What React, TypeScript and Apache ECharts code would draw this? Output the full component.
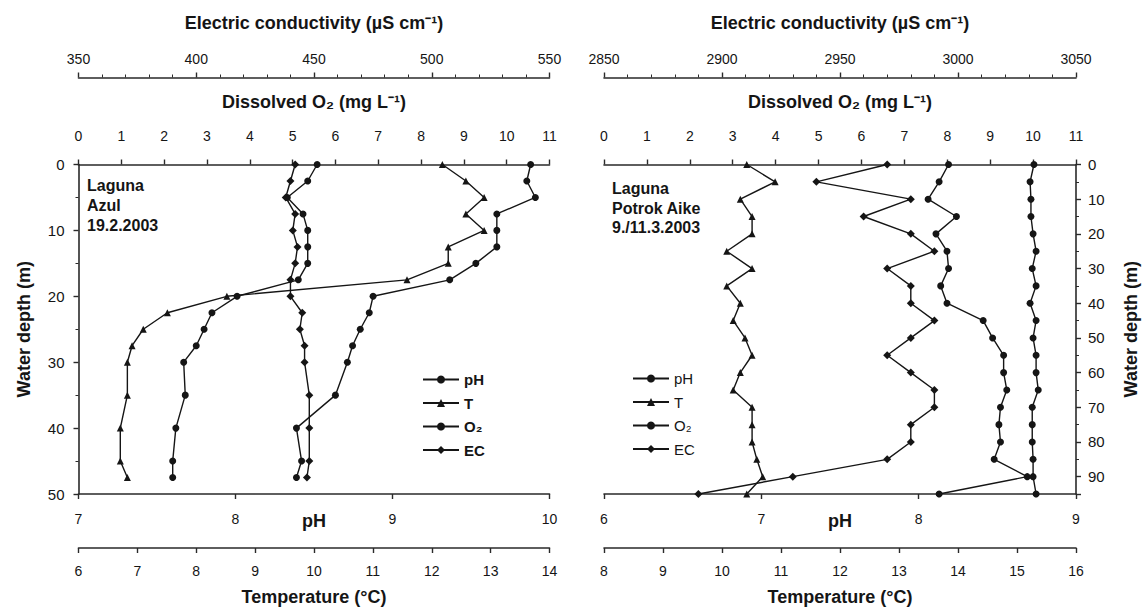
import React, { useEffect, useRef } from "react";
import * as echarts from "echarts";

// ---- Laguna Azul (19.2.2003) ----
const depthAzul = [0, 2.5, 5, 7.5, 10, 12.5, 15, 17.5, 20, 22.5, 25, 27.5, 30, 35, 40, 45, 47.5];
const phAzul = [8.52, 8.46, 8.33, 8.43, 8.46, 8.46, 8.46, 8.4, 8.01, 7.85, 7.8, 7.75, 7.67, 7.68, 7.62, 7.6, 7.6];
const tAzul = [12.18, 12.58, 12.89, 12.58, 12.89, 12.28, 12.28, 11.58, 8.52, 7.51, 7.1, 6.91, 6.83, 6.83, 6.71, 6.71, 6.83];
const o2Azul = [10.56, 10.47, 10.67, 9.77, 9.77, 9.77, 9.28, 8.67, 6.88, 6.79, 6.58, 6.4, 6.28, 6.0, 5.09, 5.21, 5.09];
const ecAzul = [442, 440, 438, 442, 441, 443, 442, 440, 440, 445, 444, 446, 446, 448, 448, 448, 447];

// ---- Laguna Potrok Aike (9./11.3.2003) ----
const depthPotrok = [0, 5, 10, 15, 20, 25, 30, 35, 40, 45, 50, 55, 60, 65, 70, 75, 80, 85, 90, 95];
const phPotrok = [8.19, 8.13, 8.06, 8.24, 8.11, 8.18, 8.19, 8.14, 8.18, 8.41, 8.47, 8.54, 8.54, 8.56, 8.52, 8.51, 8.52, 8.48, 8.69, 8.13];
const tPotrok = [10.42, 10.9, 10.31, 10.51, 10.51, 10.08, 10.51, 10.08, 10.31, 10.19, 10.39, 10.51, 10.31, 10.19, 10.51, 10.51, 10.51, 10.59, 10.69, 10.42];
const o2Potrok = [10.02, 9.93, 9.95, 9.95, 10.0, 10.07, 9.98, 10.07, 9.93, 10.07, 10.0, 10.07, 10.07, 10.12, 9.98, 9.98, 9.98, 10.0, 10.0, 10.07];
const ecPotrok = [2970, 2940, 2980, 2960, 2980, 2990, 2970, 2980, 2980, 2990, 2980, 2970, 2980, 2990, 2990, 2980, 2980, 2970, 2930, 2890];

const seriesNames = ["pH", "T", "O₂", "EC"];

const FONT = "'Liberation Sans', Arial, Helvetica, sans-serif";
const AXIS_COLOR = "#2a2a2a";
const INK = "#151515";

function xAxis(
  gridIndex: number,
  position: "top" | "bottom",
  offset: number,
  min: number,
  max: number,
  interval: number,
  name: string,
  nameGap: number,
  labelMargin: number,
  minorSplit: number
) {
  return {
    type: "value",
    gridIndex,
    position,
    offset,
    min,
    max,
    interval,
    name,
    nameLocation: "middle",
    nameGap,
    nameMoveOverlap: false,
    nameTextStyle: { fontFamily: FONT, fontSize: 18, fontWeight: "bold", color: INK },
    axisLine: { show: true, onZero: false, lineStyle: { color: AXIS_COLOR, width: 1.6 } },
    axisTick: { show: true, inside: false, length: 5, lineStyle: { color: AXIS_COLOR, width: 1.4 } },
    minorTick: { show: minorSplit > 0, splitNumber: minorSplit || 5, length: 3, lineStyle: { color: AXIS_COLOR, width: 1 } },
    axisLabel: {
      margin: labelMargin,
      fontFamily: FONT,
      fontSize: 14,
      color: INK,
      showMinLabel: true,
      showMaxLabel: true,
      formatter: (v: number) => String(v),
    },
    splitLine: { show: false },
    minorSplitLine: { show: false },
  };
}

function yAxis(gridIndex: number, position: "left" | "right", max: number, labelMargin: number) {
  return {
    type: "value",
    gridIndex,
    position,
    inverse: true,
    min: 0,
    max,
    interval: 10,
    name: "Water depth (m)",
    nameLocation: "middle",
    nameRotate: 90,
    nameGap: 46,
    nameMoveOverlap: false,
    nameTextStyle: { fontFamily: FONT, fontSize: 18, fontWeight: "bold", color: INK },
    axisLine: { show: true, onZero: false, lineStyle: { color: AXIS_COLOR, width: 1.6 } },
    axisTick: { show: true, length: 5, lineStyle: { color: AXIS_COLOR, width: 1.4 } },
    minorTick: { show: true, splitNumber: 2, length: 3, lineStyle: { color: AXIS_COLOR, width: 1 } },
    axisLabel: {
      margin: labelMargin,
      fontFamily: FONT,
      fontSize: 15,
      color: INK,
      formatter: (v: number) => (v % 10 === 0 ? String(v) : ""),
    },
    splitLine: { show: false },
  };
}

function lineSeries(
  name: string,
  xAxisIndex: number,
  yAxisIndex: number,
  values: number[],
  depths: number[],
  symbol: string,
  symbolSize: number
) {
  return {
    type: "line",
    name,
    xAxisIndex,
    yAxisIndex,
    data: depths.map((d, i) => [values[i], d]),
    symbol,
    symbolSize,
    showAllSymbol: true,
    clip: false,
    lineStyle: { color: INK, width: 1.4 },
    itemStyle: { color: INK },
    emphasis: { disabled: true },
  };
}

export default function App() {
  const ref = useRef<HTMLDivElement>(null);

  useEffect(() => {
    if (!ref.current) return;
    const chart = echarts.init(ref.current, undefined, { renderer: "svg" });
    const legendBase = {
      data: seriesNames,
      orient: "vertical",
      itemWidth: 36,
      itemHeight: 10,
      itemGap: 8.5,
      selectedMode: false,
      textStyle: { fontFamily: FONT, fontSize: 15, color: INK },
    };
    chart.setOption({
      animation: false,
      backgroundColor: "#ffffff",
      grid: [
        { left: 78.5, top: 164.5, width: 471, height: 330, containLabel: false },
        { left: 604, top: 164.5, width: 472, height: 330, containLabel: false },
      ],
      xAxis: [
        xAxis(0, "top", 0, 0, 11, 1, "Dissolved O₂ (mg L⁻¹)", 54, 22, 0),
        xAxis(0, "top", 87, 350, 550, 50, "Electric conductivity (µS cm⁻¹)", 46, 12, 5),
        xAxis(0, "bottom", 0, 7, 10, 1, "pH", 18, 18, 0),
        xAxis(0, "bottom", 54, 6, 14, 1, "Temperature (°C)", 40, 16, 0),
        xAxis(1, "top", 0, 0, 11, 1, "Dissolved O₂ (mg L⁻¹)", 54, 22, 0),
        xAxis(1, "top", 87, 2850, 3050, 50, "Electric conductivity (µS cm⁻¹)", 46, 12, 5),
        xAxis(1, "bottom", 0, 6, 9, 1, "pH", 18, 18, 0),
        xAxis(1, "bottom", 54, 8, 16, 1, "Temperature (°C)", 40, 16, 0),
      ],
      yAxis: [yAxis(0, "left", 50, 14), yAxis(1, "right", 95, 12)],
      legend: [
        { ...legendBase, left: 417, top: 367, textStyle: { ...legendBase.textStyle, fontWeight: "bold" } },
        { ...legendBase, left: 627, top: 366 },
      ],
      graphic: [
        {
          type: "text",
          left: 87,
          top: 175,
          style: { text: "Laguna\nAzul\n19.2.2003", font: `bold 16px ${FONT}`, fill: INK, lineHeight: 20 },
        },
        {
          type: "text",
          left: 612,
          top: 179,
          style: { text: "Laguna\nPotrok Aike\n9./11.3.2003", font: `bold 16px ${FONT}`, fill: INK, lineHeight: 19.5 },
        },
      ],
      series: [
        lineSeries("pH", 2, 0, phAzul, depthAzul, "circle", 7),
        lineSeries("T", 3, 0, tAzul, depthAzul, "triangle", 7),
        lineSeries("O₂", 0, 0, o2Azul, depthAzul, "circle", 7),
        lineSeries("EC", 1, 0, ecAzul, depthAzul, "diamond", 8),
        lineSeries("pH", 6, 1, phPotrok, depthPotrok, "circle", 7),
        lineSeries("T", 7, 1, tPotrok, depthPotrok, "triangle", 7),
        lineSeries("O₂", 4, 1, o2Potrok, depthPotrok, "circle", 7),
        lineSeries("EC", 5, 1, ecPotrok, depthPotrok, "diamond", 8),
      ],
    });
    return () => chart.dispose();
  }, []);

  return (
    <div
      ref={ref}
      style={{ position: "fixed", left: 0, top: 0, width: 1147, height: 611, background: "#fff" }}
    />
  );
}
